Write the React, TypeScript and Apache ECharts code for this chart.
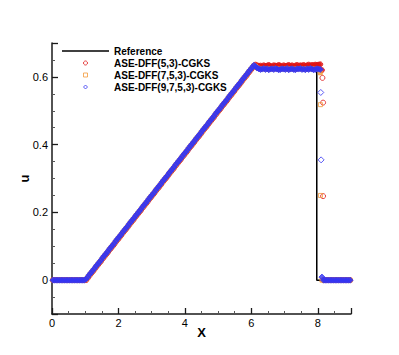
import React, { useEffect, useRef } from "react";
import * as echarts from "echarts";

// Shared cell-centre grid of the numerical solutions (rows of 10)
const X_GRID = [
  0.025, 0.075, 0.125, 0.175, 0.225, 0.275, 0.325, 0.375, 0.425, 0.475,
  0.525, 0.575, 0.625, 0.675, 0.725, 0.775, 0.825, 0.875, 0.925, 0.975,
  1.025, 1.075, 1.125, 1.175, 1.225, 1.275, 1.325, 1.375, 1.425, 1.475,
  1.525, 1.575, 1.625, 1.675, 1.725, 1.775, 1.825, 1.875, 1.925, 1.975,
  2.025, 2.075, 2.125, 2.175, 2.225, 2.275, 2.325, 2.375, 2.425, 2.475,
  2.525, 2.575, 2.625, 2.675, 2.725, 2.775, 2.825, 2.875, 2.925, 2.975,
  3.025, 3.075, 3.125, 3.175, 3.225, 3.275, 3.325, 3.375, 3.425, 3.475,
  3.525, 3.575, 3.625, 3.675, 3.725, 3.775, 3.825, 3.875, 3.925, 3.975,
  4.025, 4.075, 4.125, 4.175, 4.225, 4.275, 4.325, 4.375, 4.425, 4.475,
  4.525, 4.575, 4.625, 4.675, 4.725, 4.775, 4.825, 4.875, 4.925, 4.975,
  5.025, 5.075, 5.125, 5.175, 5.225, 5.275, 5.325, 5.375, 5.425, 5.475,
  5.525, 5.575, 5.625, 5.675, 5.725, 5.775, 5.825, 5.875, 5.925, 5.975,
  6.025, 6.075, 6.125, 6.175, 6.225, 6.275, 6.325, 6.375, 6.425, 6.475,
  6.525, 6.575, 6.625, 6.675, 6.725, 6.775, 6.825, 6.875, 6.925, 6.975,
  7.025, 7.075, 7.125, 7.175, 7.225, 7.275, 7.325, 7.375, 7.425, 7.475,
  7.525, 7.575, 7.625, 7.675, 7.725, 7.775, 7.825, 7.875, 7.925, 7.975,
  8.025, 8.075, 8.125, 8.175, 8.225, 8.275, 8.325, 8.375, 8.425, 8.475,
  8.525, 8.575, 8.625, 8.675, 8.725, 8.775, 8.825, 8.875, 8.925, 8.975,
];

// ASE-DFF(5,3)-CGKS (red circles)
const U_53 = [
  0, 0, 0, 0, 0, 0, 0, 0, 0, 0,
  0, 0, 0, 0, 0, 0, 0, 0, 0, 0,
  0.000, 0.006, 0.013, 0.019, 0.025, 0.031, 0.038, 0.044, 0.050, 0.056,
  0.063, 0.069, 0.075, 0.081, 0.088, 0.094, 0.100, 0.106, 0.113, 0.119,
  0.125, 0.131, 0.138, 0.144, 0.150, 0.156, 0.163, 0.169, 0.175, 0.181,
  0.188, 0.194, 0.200, 0.206, 0.213, 0.219, 0.225, 0.231, 0.238, 0.244,
  0.250, 0.256, 0.263, 0.269, 0.275, 0.281, 0.288, 0.294, 0.300, 0.306,
  0.313, 0.319, 0.325, 0.331, 0.338, 0.344, 0.350, 0.356, 0.363, 0.369,
  0.375, 0.381, 0.388, 0.394, 0.400, 0.406, 0.413, 0.419, 0.425, 0.431,
  0.438, 0.444, 0.450, 0.456, 0.463, 0.469, 0.475, 0.481, 0.488, 0.494,
  0.500, 0.506, 0.513, 0.519, 0.525, 0.531, 0.538, 0.544, 0.550, 0.556,
  0.563, 0.569, 0.575, 0.581, 0.588, 0.594, 0.600, 0.606, 0.613, 0.619,
  0.625, 0.632, 0.636, 0.634, 0.632, 0.633, 0.631, 0.634, 0.632, 0.633,
  0.635, 0.632, 0.631, 0.634, 0.633, 0.632, 0.635, 0.633, 0.631, 0.634,
  0.632, 0.633, 0.635, 0.632, 0.634, 0.631, 0.633, 0.635, 0.632, 0.634,
  0.633, 0.635, 0.632, 0.634, 0.636, 0.633, 0.635, 0.634, 0.636, 0.635,
  0.636, 0.637, 0.620, 0, 0, 0, 0, 0, 0, 0,
  0, 0, 0, 0, 0, 0, 0, 0, 0, 0,
];
const SHOCK_53_X = [8.14, 8.16, 8.16];
const SHOCK_53_U = [0.597, 0.524, 0.248];

// ASE-DFF(7,5,3)-CGKS (orange squares)
const U_753 = [
  0, 0, 0, 0, 0, 0, 0, 0, 0, 0,
  0, 0, 0, 0, 0, 0, 0, 0, 0, 0,
  0.002, 0.008, 0.015, 0.021, 0.027, 0.033, 0.040, 0.046, 0.052, 0.058,
  0.065, 0.071, 0.077, 0.083, 0.090, 0.096, 0.102, 0.108, 0.115, 0.121,
  0.127, 0.133, 0.140, 0.146, 0.152, 0.158, 0.165, 0.171, 0.177, 0.183,
  0.190, 0.196, 0.202, 0.208, 0.215, 0.221, 0.227, 0.233, 0.240, 0.246,
  0.252, 0.258, 0.265, 0.271, 0.277, 0.283, 0.290, 0.296, 0.302, 0.308,
  0.315, 0.321, 0.327, 0.333, 0.340, 0.346, 0.352, 0.358, 0.365, 0.371,
  0.377, 0.383, 0.390, 0.396, 0.402, 0.408, 0.415, 0.421, 0.427, 0.433,
  0.440, 0.446, 0.452, 0.458, 0.465, 0.471, 0.477, 0.483, 0.490, 0.496,
  0.502, 0.508, 0.515, 0.521, 0.527, 0.533, 0.540, 0.546, 0.552, 0.558,
  0.565, 0.571, 0.577, 0.583, 0.590, 0.596, 0.602, 0.608, 0.615, 0.621,
  0.627, 0.633, 0.632, 0.627, 0.625, 0.623, 0.624, 0.625, 0.623, 0.624,
  0.622, 0.624, 0.624, 0.623, 0.625, 0.624, 0.622, 0.623, 0.624, 0.624,
  0.623, 0.625, 0.622, 0.624, 0.624, 0.623, 0.622, 0.624, 0.624, 0.625,
  0.623, 0.624, 0.622, 0.624, 0.623, 0.625, 0.624, 0.622, 0.623, 0.624,
  0.623, 0.612, 0, 0, 0, 0, 0, 0, 0, 0,
  0, 0, 0, 0, 0, 0, 0, 0, 0, 0,
];
const SHOCK_753_X = [8.08, 8.08];
const SHOCK_753_U = [0.518, 0.25];

// ASE-DFF(9,7,5,3)-CGKS (blue diamonds)
const U_9753 = [
  0, 0, 0, 0, 0, 0, 0, 0, 0, 0,
  0, 0, 0, 0, 0, 0, 0, 0, 0, 0,
  0.003, 0.009, 0.016, 0.022, 0.028, 0.034, 0.041, 0.047, 0.053, 0.059,
  0.066, 0.072, 0.078, 0.084, 0.091, 0.097, 0.103, 0.109, 0.116, 0.122,
  0.128, 0.134, 0.141, 0.147, 0.153, 0.159, 0.166, 0.172, 0.178, 0.184,
  0.191, 0.197, 0.203, 0.209, 0.216, 0.222, 0.228, 0.234, 0.241, 0.247,
  0.253, 0.259, 0.266, 0.272, 0.278, 0.284, 0.291, 0.297, 0.303, 0.309,
  0.316, 0.322, 0.328, 0.334, 0.341, 0.347, 0.353, 0.359, 0.366, 0.372,
  0.378, 0.384, 0.391, 0.397, 0.403, 0.409, 0.416, 0.422, 0.428, 0.434,
  0.441, 0.447, 0.453, 0.459, 0.466, 0.472, 0.478, 0.484, 0.491, 0.497,
  0.503, 0.509, 0.516, 0.522, 0.528, 0.534, 0.541, 0.547, 0.553, 0.559,
  0.566, 0.572, 0.578, 0.584, 0.591, 0.597, 0.603, 0.609, 0.616, 0.622,
  0.628, 0.634, 0.631, 0.626, 0.624, 0.622, 0.623, 0.625, 0.622, 0.624,
  0.621, 0.623, 0.624, 0.622, 0.625, 0.623, 0.621, 0.622, 0.624, 0.623,
  0.622, 0.625, 0.621, 0.623, 0.624, 0.622, 0.621, 0.624, 0.623, 0.625,
  0.622, 0.623, 0.621, 0.624, 0.622, 0.625, 0.623, 0.621, 0.622, 0.624,
  0.623, 0.622, 0.009, 0, 0, 0, 0, 0, 0, 0,
  0, 0, 0, 0, 0, 0, 0, 0, 0, 0,
];
const SHOCK_9753_X = [8.09, 8.1];
const SHOCK_9753_U = [0.554, 0.355];

// Reference (exact) solution
const REF_X = [0, 1, 6.05, 7.97, 7.97, 9];
const REF_U = [0, 0, 0.627, 0.627, 0, 0];

const SERIES_NAMES = [
  "Reference",
  "ASE-DFF(5,3)-CGKS",
  "ASE-DFF(7,5,3)-CGKS",
  "ASE-DFF(9,7,5,3)-CGKS",
];
const COLORS = ["#000000", "#e01414", "#f29a3a", "#3434f2"];
const X_LABELS = [0, 2, 4, 6, 8];
const U_LABELS = [0, 0.2, 0.4, 0.6];

const isIn = (v: number, list: number[]) => list.some((t) => Math.abs(t - v) < 1e-6);
const FONT = "'Liberation Sans', Arial, Helvetica, sans-serif";
const HOLLOW = "rgba(0,0,0,0)";

// dense grid points overlap into a solid band; isolated shock points stay hollow
const numData = (xs: number[], us: number[], sx: number[], su: number[], color: string) =>
  xs
    .map((x, i) => ({ value: [x, us[i]], itemStyle: { color } }))
    .concat(sx.map((x, i) => ({ value: [x, su[i]], itemStyle: { color: HOLLOW } })));

export default function App() {
  const ref = useRef<HTMLDivElement>(null);
  useEffect(() => {
    document.body.style.margin = "0";
    const chart = echarts.init(ref.current!, null, { renderer: "svg" });
    const axisCommon = {
      axisLine: { show: true, onZero: false, lineStyle: { color: "#1a1a1a", width: 1.5 } },
      axisTick: { show: true, inside: true, length: 6, lineStyle: { color: "#1a1a1a", width: 1.3 } },
      minorTick: { show: true, splitNumber: 4, length: 3, lineStyle: { color: "#555", width: 1 } },
      splitLine: { show: false },
      minorSplitLine: { show: false },
      nameMoveOverlap: false,
    };
    const scatterCommon = { type: "scatter", symbolKeepAspect: true, z: 3 };
    chart.setOption({
      animation: false,
      backgroundColor: "#fff",
      grid: { left: 52, right: 48, top: 43, bottom: 41, containLabel: false, outerBoundsMode: "none" },
      legend: {
        orient: "vertical",
        left: 62,
        top: 46,
        padding: 0,
        itemWidth: 47,
        itemHeight: 4,
        itemGap: 2,
        symbolKeepAspect: true,
        data: [
          { name: SERIES_NAMES[0], icon: "path://M0,0L47,0L47,1.5L0,1.5Z", itemStyle: { color: COLORS[0] } },
          { name: SERIES_NAMES[1], icon: "circle", itemStyle: { color: HOLLOW, borderColor: COLORS[1], borderWidth: 1 } },
          { name: SERIES_NAMES[2], icon: "path://M0,0L10,0L10,10L0,10Z", itemStyle: { color: HOLLOW, borderColor: COLORS[2], borderWidth: 1 } },
          { name: SERIES_NAMES[3], icon: "path://M5,0L10,5L5,10L0,5Z", itemStyle: { color: HOLLOW, borderColor: COLORS[3], borderWidth: 1 } },
        ],
        textStyle: { fontFamily: FONT, fontSize: 10, fontWeight: "bold", color: "#000" },
      },
      xAxis: {
        type: "value",
        min: 0,
        max: 9,
        splitNumber: 5,
        name: "X",
        nameLocation: "middle",
        nameGap: 12,
        nameTextStyle: { fontFamily: FONT, fontSize: 13, fontWeight: "bold", color: "#000" },
        axisLabel: {
          margin: 3,
          fontFamily: FONT,
          fontSize: 11,
          color: "#000",
          formatter: (v: number) => (isIn(v, X_LABELS) ? String(v) : ""),
        },
        ...axisCommon,
      },
      yAxis: {
        type: "value",
        min: -0.1,
        max: 0.7,
        splitNumber: 4,
        name: "u",
        nameLocation: "middle",
        nameRotate: 90,
        nameGap: 21,
        nameTextStyle: { fontFamily: FONT, fontSize: 13, fontWeight: "bold", color: "#000" },
        axisLabel: {
          margin: 4,
          fontFamily: FONT,
          fontSize: 11,
          color: "#000",
          formatter: (v: number) => (isIn(v, U_LABELS) ? String(Math.round(v * 10) / 10) : ""),
        },
        ...axisCommon,
      },
      series: [
        {
          name: SERIES_NAMES[0],
          type: "line",
          z: 1,
          data: REF_X.map((x, i) => [x, REF_U[i]]),
          showSymbol: false,
          symbol: "none",
          lineStyle: { color: COLORS[0], width: 1.5 },
          itemStyle: { color: COLORS[0] },
        },
        {
          ...scatterCommon,
          name: SERIES_NAMES[1],
          data: numData(X_GRID, U_53, SHOCK_53_X, SHOCK_53_U, COLORS[1]),
          symbol: "circle",
          symbolSize: 5,
          itemStyle: { color: HOLLOW, borderColor: COLORS[1], borderWidth: 1 },
        },
        {
          ...scatterCommon,
          name: SERIES_NAMES[2],
          data: numData(X_GRID, U_753, SHOCK_753_X, SHOCK_753_U, COLORS[2]),
          symbol: "rect",
          symbolSize: 4,
          itemStyle: { color: HOLLOW, borderColor: COLORS[2], borderWidth: 1 },
        },
        {
          ...scatterCommon,
          name: SERIES_NAMES[3],
          data: numData(X_GRID, U_9753, SHOCK_9753_X, SHOCK_9753_U, COLORS[3]),
          symbol: "diamond",
          symbolSize: 6,
          itemStyle: { color: HOLLOW, borderColor: COLORS[3], borderWidth: 1 },
        },
      ],
    });
    return () => chart.dispose();
  }, []);
  return <div ref={ref} style={{ width: 399, height: 355 }} />;
}
